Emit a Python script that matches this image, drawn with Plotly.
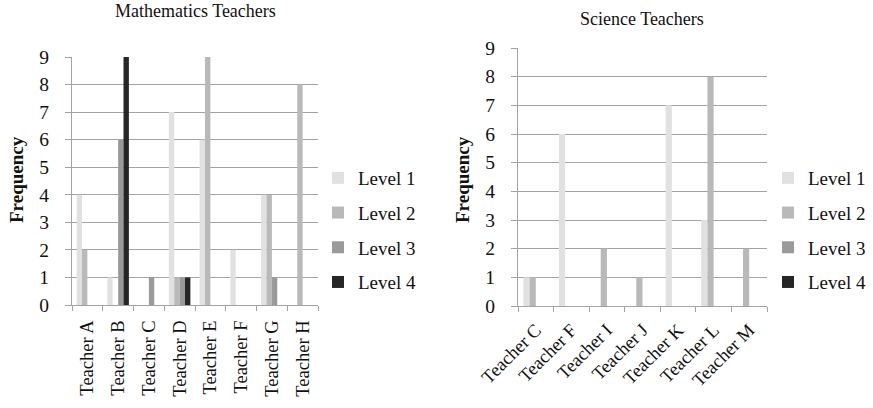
import plotly.graph_objects as go

# Frequency counts per teacher and level
math_teachers = ["Teacher A", "Teacher B", "Teacher C", "Teacher D",
                 "Teacher E", "Teacher F", "Teacher G", "Teacher H"]
math_level1 = [4, 1, 0, 7, 6, 2, 4, 0]
math_level2 = [2, 0, 0, 1, 9, 0, 4, 8]
math_level3 = [0, 6, 1, 1, 0, 0, 1, 0]
math_level4 = [0, 9, 0, 1, 0, 0, 0, 0]

sci_teachers = ["Teacher C", "Teacher F", "Teacher I", "Teacher J",
                "Teacher K", "Teacher L", "Teacher M"]
sci_level1 = [1, 6, 0, 0, 7, 3, 0]
sci_level2 = [1, 0, 2, 1, 0, 8, 2]
sci_level3 = [0, 0, 0, 0, 0, 0, 0]
sci_level4 = [0, 0, 0, 0, 0, 0, 0]

level_names = ["Level 1", "Level 2", "Level 3", "Level 4"]
y_ticks = list(range(0, 10))

colors = ["#e1e1e1", "#b9b9b9", "#9a9a9a", "#262626"]
FONT = "Liberation Serif"
GRID = "#a3a3a3"

W, H = 873, 408
fig = go.Figure()

math_series = [math_level1, math_level2, math_level3, math_level4]
sci_series = [sci_level1, sci_level2, sci_level3, sci_level4]

for i, (name, vals) in enumerate(zip(level_names, math_series)):
    fig.add_trace(go.Bar(x=math_teachers, y=vals, name=name, marker_color=colors[i],
                         marker_line_width=0, xaxis="x", yaxis="y",
                         legend="legend", legendgroup=f"m{i}"))
for i, (name, vals) in enumerate(zip(level_names, sci_series)):
    fig.add_trace(go.Bar(x=sci_teachers, y=vals, name=name, marker_color=colors[i],
                         marker_line_width=0, xaxis="x2", yaxis="y2",
                         legend="legend2", legendgroup=f"s{i}"))

def px_x(p):
    return p / W

def px_y(p):
    return 1 - p / H

yaxis_common = dict(range=[0, 9], tickvals=y_ticks, showgrid=True, gridcolor=GRID,
                    gridwidth=1, showline=True, linecolor=GRID, linewidth=1,
                    ticks="outside", ticklen=6, tickcolor=GRID,
                    tickfont=dict(family=FONT, size=19.5, color="#111"),
                    ticklabelstandoff=12, zeroline=False, fixedrange=True,
                    automargin=False)
xaxis_common = dict(showline=True, linecolor=GRID, linewidth=1, ticks="outside",
                    ticklen=5, tickcolor=GRID, tickson="boundaries",
                    tickfont=dict(family=FONT, size=18.5, color="#111"),
                    showgrid=False, fixedrange=True, automargin=False)

legend_common = dict(xanchor="left", yanchor="top",
                     font=dict(family=FONT, size=19, color="#111"),
                     tracegroupgap=7, bgcolor="rgba(0,0,0,0)")

fig.update_layout(
    width=W, height=H, margin=dict(l=0, r=0, t=0, b=0, autoexpand=False),
    paper_bgcolor="white", plot_bgcolor="white",
    barmode="group", bargap=0.3, bargroupgap=0,
    xaxis=dict(domain=[px_x(72), px_x(318)], anchor="y", tickangle=-90,
               ticklabelstandoff=7, **xaxis_common),
    yaxis=dict(domain=[px_y(305), px_y(57)], anchor="x", **yaxis_common),
    xaxis2=dict(domain=[px_x(518), px_x(767)], anchor="y2", tickangle=-45,
                ticklabelstandoff=5, **xaxis_common),
    yaxis2=dict(domain=[px_y(306), px_y(48)], anchor="x2", **yaxis_common),
    legend=dict(x=px_x(318), y=px_y(159), **legend_common),
    legend2=dict(x=px_x(768), y=px_y(159), **legend_common),
    annotations=[
        dict(text="Mathematics Teachers", x=px_x(195), y=px_y(11), xref="paper",
             yref="paper", showarrow=False, xanchor="center", yanchor="middle",
             font=dict(family=FONT, size=18, color="#111")),
        dict(text="Science Teachers", x=px_x(642), y=px_y(19), xref="paper",
             yref="paper", showarrow=False, xanchor="center", yanchor="middle",
             font=dict(family=FONT, size=18, color="#111")),
        dict(text="<b>Frequency</b>", x=px_x(16), y=px_y(180), xref="paper",
             yref="paper", showarrow=False, textangle=-90, xanchor="center",
             yanchor="middle", font=dict(family=FONT, size=19, color="#111")),
        dict(text="<b>Frequency</b>", x=px_x(462), y=px_y(180), xref="paper",
             yref="paper", showarrow=False, textangle=-90, xanchor="center",
             yanchor="middle", font=dict(family=FONT, size=19, color="#111")),
    ],
)

fig.write_html("out.html")
